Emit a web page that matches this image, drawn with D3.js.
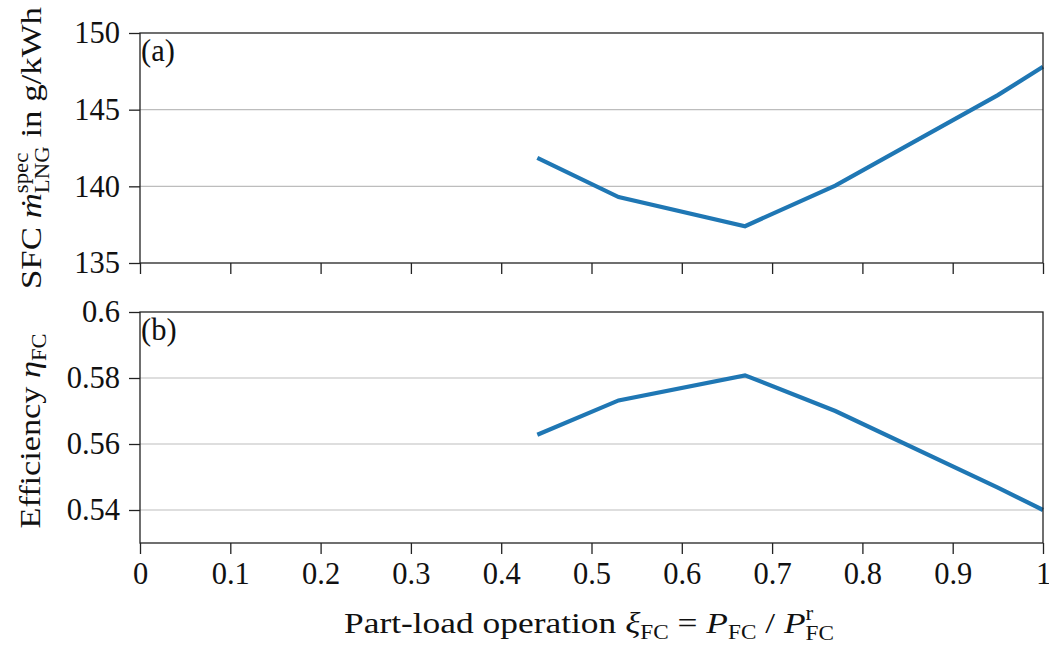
<!DOCTYPE html>
<html><head><meta charset="utf-8">
<script src="https://cdn.jsdelivr.net/npm/d3@7"></script>
<style>body{margin:0;background:#fff}svg{display:block}text{font-family:"Liberation Serif","DejaVu Serif",serif;white-space:pre}</style>
</head><body><svg id="c" width="1049" height="646"></svg>
<script>
const loadX = [0.44, 0.53, 0.67, 0.77, 0.95, 1.0];
const sfc = [141.85, 139.3, 137.4, 140.05, 145.95, 147.8];
const eff = [0.5628, 0.5732, 0.5808, 0.5700, 0.5468, 0.5400];
const xTicks = [0,0.1,0.2,0.3,0.4,0.5,0.6,0.7,0.8,0.9,1];
const sfcTicks = [135,140,145,150];
const effTicks = [0.54,0.56,0.58,0.6];

const svg = d3.select("#c");
const L=140,R=1043;
const x = d3.scaleLinear().domain([0,1]).range([L,R]);
const y1 = d3.scaleLinear().domain([135,150]).range([263,33]);
const y2 = d3.scaleLinear().domain([0.53,0.6]).range([543,312]);
const FS = 30.5, SS = 20;
const FF = "'Liberation Serif','DejaVu Serif',serif";
const blue = "#1f77b4";

function panel(y, yt, vals, fmt, showX, tag){
  const [b,t] = y.range();
  const g = svg.append("g");
  g.selectAll(".gr").data(yt.filter(v=>Math.abs(y(v)-t)>1 && Math.abs(y(v)-b)>1)).join("line")
    .attr("x1",L).attr("x2",R).attr("y1",d=>y(d)).attr("y2",d=>y(d))
    .attr("stroke","#bdbdbd").attr("stroke-width",1.2);
  g.append("path").datum(vals.map((v,i)=>[loadX[i],v]))
    .attr("d",d3.line().x(d=>x(d[0])).y(d=>y(d[1])))
    .attr("fill","none").attr("stroke",blue).attr("stroke-width",4.2);
  g.append("rect").attr("x",L).attr("y",t).attr("width",R-L).attr("height",b-t)
    .attr("fill","none").attr("stroke","#222").attr("stroke-width",1.3);
  const ya = d3.axisLeft(y).tickValues(yt).tickFormat(fmt).tickSize(11).tickPadding(9);
  const yg = g.append("g").attr("transform",`translate(${L},0)`).call(ya);
  yg.select(".domain").remove();
  yg.selectAll("text").attr("font-size",FS).attr("fill","#111").style("font-family",FF);
  yg.selectAll("line").attr("stroke","#222").attr("stroke-width",1.3);
  const xa = d3.axisBottom(x).tickValues(xTicks).tickSize(11).tickPadding(8)
     .tickFormat(showX ? (d=>d===0||d===1? String(d): d3.format(".1f")(d)) : ()=> "");
  const xg = g.append("g").attr("transform",`translate(0,${b})`).call(xa);
  xg.select(".domain").remove();
  xg.selectAll("text").attr("font-size",FS).attr("fill","#111").style("font-family",FF);
  xg.selectAll("line").attr("stroke","#222").attr("stroke-width",1.3);
  g.append("text").attr("x",L+1).attr("y",t+28).attr("font-size",FS).attr("fill","#111").text(tag);
}
panel(y1, sfcTicks, sfc, d3.format("d"), false, "(a)");
panel(y2, effTicks, eff, d=>d===0.6?"0.6":d3.format(".2f")(d), true, "(b)");

function rich(g, pieces){
  let cx=0;
  pieces.forEach(p=>{
    if(p.stack){
      const ws = p.stack.map(s=>{
        const tt=g.append("text").attr("x",cx).attr("y",s.dy).attr("font-size",s.size)
          .attr("font-style",s.it?"italic":null).attr("fill","#111").text(s.t);
        return tt.node().getComputedTextLength();
      });
      cx += Math.max(...ws);
    } else {
      const tt=g.append("text").attr("x",cx).attr("y",p.dy||0).attr("font-size",p.size||FS)
        .attr("font-style",p.it?"italic":null).attr("fill","#111").text(p.t);
      cx += tt.node().getComputedTextLength();
    }
  });
  return cx;
}
function placeRot(pieces, cxp, cyp, target){
  const g = svg.append("g");
  const w = rich(g, pieces);
  const s = target/w;
  g.attr("transform",`translate(${cxp},${cyp}) rotate(-90) scale(${s},1) translate(${-w/2},0)`);
}
function placeH(pieces, cxp, cyp, target){
  const g = svg.append("g");
  const w = rich(g, pieces);
  const s = target/w;
  g.attr("transform",`translate(${cxp},${cyp}) scale(${s},1) translate(${-w/2},0)`);
}
placeRot([{t:"SFC "},{t:"ṁ",it:true},{stack:[{t:"spec",size:SS,dy:-13},{t:"LNG",size:SS,dy:8}]},{t:" in g/kWh"}], 41, 148, 282);
placeRot([{t:"Efficiency "},{t:"η",it:true},{t:"FC",size:SS,dy:6}], 40, 431, 195);
placeH([{t:"Part-load operation "},{t:"ξ",it:true},{t:"FC",size:SS,dy:6},{t:" = "},{t:"P",it:true},{t:"FC",size:SS,dy:6},{t:" / "},{t:"P",it:true},{stack:[{t:"r",size:SS,dy:-13},{t:"FC",size:SS,dy:7}]}], 589, 633, 490);
</script></body></html>
